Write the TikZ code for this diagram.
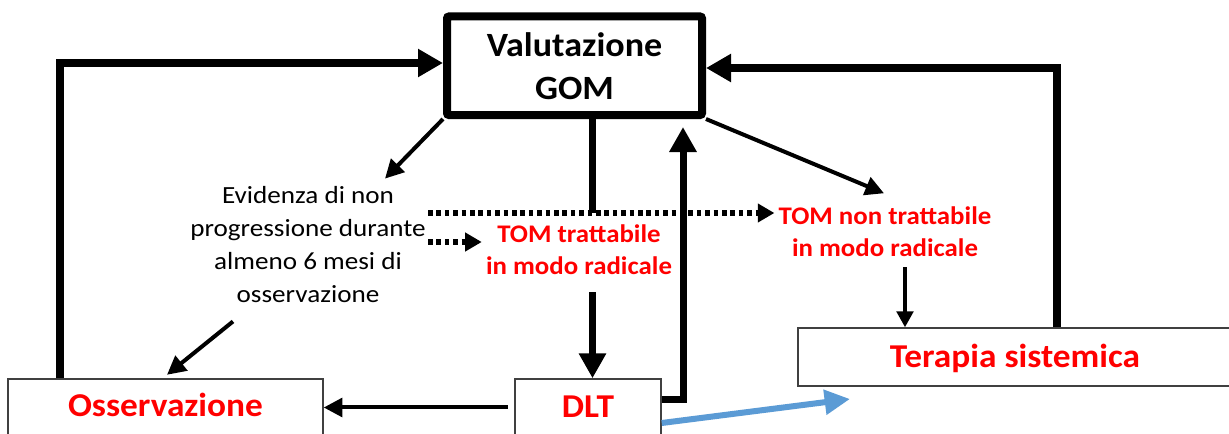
\documentclass[tikz,border=0pt]{standalone}
\usepackage{fontspec}
\setmainfont[FakeStretch=1.06]{Carlito}
\newfontfamily\notefont[FakeStretch=1.1]{Carlito}
\usetikzlibrary{arrows.meta,calc}
\definecolor{boxline}{HTML}{404040}
\definecolor{flowblue}{HTML}{5B9BD5}
\tikzset{
  box/.style={draw=boxline, line width=1.1pt, fill=white, inner sep=0pt,
    font=\fontsize{25}{29}\selectfont\bfseries, text=red, anchor=base},
  gombox/.style={draw=black, line width=6pt, rounded corners=1.5pt, align=center,
    font=\fontsize{25.5}{32.25}\selectfont\bfseries, minimum width=191.25pt,
    minimum height=73.9pt, inner sep=0pt},
  note/.style={align=center, font=\notefont\fontsize{18.5}{24.75}\selectfont, inner sep=3pt, anchor=base},
  redtxt/.style={align=center, text=red, font=\fontsize{19}{24.5}\selectfont\bfseries,
    inner sep=3pt, anchor=base},
  bigarr/.style={line width=6pt, -{Triangle[length=18.75pt,width=20pt]}},
  midline/.style={line width=5.25pt},
  midarr/.style={line width=5.25pt, -{Triangle[length=18.75pt,width=19.5pt]}},
  thinarr/.style={line width=3pt, -{Triangle[length=14pt,width=14pt]}},
  smallarr/.style={line width=2.6pt, -{Triangle[length=12pt,width=12.5pt]}},
  dotarr/.style={line width=3.8pt, dash pattern=on 3.4pt off 2.9pt,
    -{Triangle[length=12.5pt,width=13.5pt]}},
  bluearr/.style={draw=flowblue, line width=4.5pt,
    -{Triangle[length=19pt,width=18pt,fill=flowblue]}},
}
\begin{document}
\begin{tikzpicture}[x=0.75pt,y=-0.75pt]
\clip (0,0) rectangle (1229,434);
\fill[white] (0,0) rectangle (1229,434);

% main boxes
\node[gombox] (gom) at (574.5,65.75) {Valutazione\\GOM};
\node[box, minimum width=236.25pt, text height=28.5pt, text depth=45pt] (oss) at (165.5,417) {Osservazione};
\node[box, minimum width=109.5pt, text height=29.25pt, text depth=45pt] (dlt) at (588,418) {DLT};
\node[box, minimum width=325.5pt, text height=30pt, text depth=13.5pt] (ter) at (1015,368) {Terapia sistemica};

% free text (base anchor sits on the last line)
\node[note] (evid) at (308,303) {Evidenza di non\\progressione durante\\almeno 6 mesi di\\osservazione};
\node[redtxt] (tomt) at (579,275) {TOM trattabile\\in modo radicale};
\node[redtxt] (tomn) at (885,257) {TOM non trattabile\\in modo radicale};

% feedback loops into the GOM assessment
\coordinate (lt) at (60,63);
\draw[bigarr] (oss.north -| lt) -- (lt) -- (lt -| gom.west);
\coordinate (rt) at (1057,68);
\draw[bigarr] (ter.north -| rt) -- (rt) -- (rt -| gom.east);

% outgoing decisions
\draw[thinarr] (gom.south west) -- ($(evid.north)+(77,-4)$);
\draw[thinarr] (gom.south east) -- ($(tomn.north)+(-1,-9)$);
\coordinate (vx) at (592.5,213);
\draw[midline] (gom.south -| vx) -- (vx);
\draw[midarr] ($(tomt.south -| vx)+(0,13)$) -- (dlt.north -| vx);

% DLT outcomes
\coordinate (rp) at (683,400);
\draw[midarr, shorten >=6pt] (dlt.east |- rp) -- (rp) -- (rp |- gom.south);
\coordinate (hy) at (0,407.5);
\draw[thinarr, shorten <=5pt] (dlt.west |- hy) -- (oss.east |- hy);
\draw[thinarr] ($(evid.south)+(-75,14)$) -- ($(oss.north)+(1.5,-3.5)$);

\coordinate (tx) at (905,0);
\draw[smallarr] ($(tomn.south -| tx)+(0,6)$) -- (ter.north -| tx);

% dotted links from the evidence note
\coordinate (d1) at (428,213);
\draw[dotarr] (d1) -- (d1 -| tomn.west);
\coordinate (d2) at (428,242);
\draw[dotarr] (d2) -- (d2 -| tomt.west);

% blue arrow towards systemic therapy
\coordinate (bs) at (0,423);
\coordinate (bt) at (850,399);
\draw[bluearr] (dlt.east |- bs) -- (bt);
\end{tikzpicture}
\end{document}
